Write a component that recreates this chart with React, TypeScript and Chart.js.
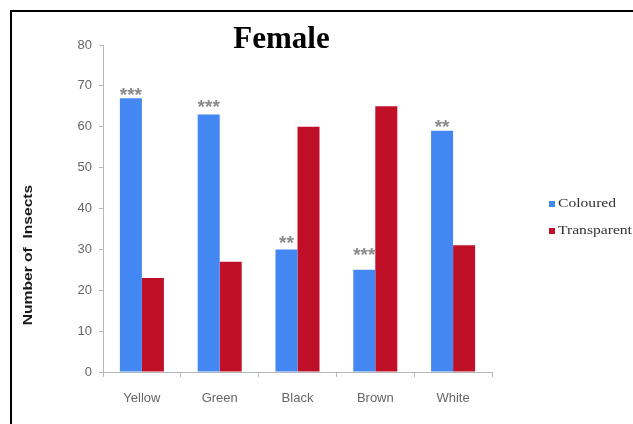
import React, { useEffect, useRef } from "react";
import { Chart, registerables } from "chart.js";

Chart.register(...registerables);

const categories = ["Yellow", "Green", "Black", "Brown", "White"];
const seriesNames = ["Coloured", "Transparent"];
const colouredValues = [67, 63, 30, 25, 59];
const transparentValues = [23, 27, 60, 65, 31];
const starLabels = ["***", "***", "**", "***", "**"];
const starLevels = [68.7, 65.8, 32.3, 29.6, 60.9];
const yTicks = [0, 10, 20, 30, 40, 50, 60, 70, 80];
const chartTitle = "Female";
const yAxisTitle = "Number of  Insects";

const BLUE = "#4287f2";
const RED = "#c01028";
const AXIS = "#b4b8bc";

const decorPlugin = {
  id: "decor",
  afterDraw(chart: any) {
    const ctx = chart.ctx as CanvasRenderingContext2D;
    const yScale = chart.scales.y;
    const meta = chart.getDatasetMeta(0);

    // stars
    ctx.save();
    ctx.fillStyle = "#8a8a8a";
    ctx.font = 'bold 19px "Liberation Sans"';
    ctx.textAlign = "center";
    ctx.textBaseline = "alphabetic";
    starLabels.forEach((s, i) => {
      const bar = meta.data[i];
      const cy = yScale.getPixelForValue(starLevels[i]);
      const m = ctx.measureText(s);
      const off = (m.actualBoundingBoxAscent - m.actualBoundingBoxDescent) / 2;
      ctx.fillText(s, bar.x, cy + off);
    });
    ctx.restore();

    // title
    ctx.save();
    ctx.fillStyle = "#000";
    ctx.font = 'bold 31px "Liberation Serif"';
    ctx.textAlign = "center";
    ctx.textBaseline = "alphabetic";
    ctx.fillText(chartTitle, 281.5, 48);
    ctx.restore();

    // y axis title
    ctx.save();
    ctx.fillStyle = "#1a1a1a";
    ctx.translate(28, 255);
    ctx.rotate(-Math.PI / 2);
    ctx.scale(1.2, 1);
    ctx.font = 'bold 13px "Liberation Sans"';
    ctx.textAlign = "center";
    ctx.textBaseline = "middle";
    ctx.fillText(yAxisTitle, 0, 0);
    ctx.restore();

    // legend
    const colors = [BLUE, RED];
    const rows = [204, 231];
    seriesNames.forEach((name, i) => {
      ctx.save();
      ctx.fillStyle = colors[i];
      ctx.fillRect(549, rows[i] - 3, 6, 6);
      ctx.fillStyle = "#333";
      ctx.translate(558, rows[i]);
      ctx.scale(1.3, 1);
      ctx.font = '12px "Liberation Serif"';
      ctx.textAlign = "left";
      ctx.textBaseline = "middle";
      ctx.fillText(name, 0, 0);
      ctx.restore();
    });
  },
};

export default function App() {
  const ref = useRef<HTMLCanvasElement | null>(null);

  useEffect(() => {
    if (!ref.current) return;
    const chart = new Chart(ref.current, {
      type: "bar",
      data: {
        labels: categories,
        datasets: [
          {
            label: seriesNames[0],
            data: colouredValues,
            backgroundColor: BLUE,
            categoryPercentage: 0.566,
            barPercentage: 1,
          },
          {
            label: seriesNames[1],
            data: transparentValues,
            backgroundColor: RED,
            categoryPercentage: 0.566,
            barPercentage: 1,
          },
        ],
      },
      options: {
        responsive: false,
        animation: false,
        layout: { padding: { left: 0, top: 45, right: 141, bottom: 0 } },
        plugins: {
          legend: { display: false },
          title: { display: false },
          tooltip: { enabled: false },
        },
        scales: {
          x: {
            afterFit(scale: any) {
              scale.height = 52;
            },
            grid: {
              display: true,
              drawOnChartArea: false,
              offset: true,
              tickLength: 5,
              color: AXIS,
            },
            border: { color: AXIS, width: 1 },
            ticks: {
              color: "#666",
              font: { family: "Liberation Sans", size: 13 },
              padding: 14,
            },
          },
          y: {
            min: 0,
            max: 80,
            afterFit(scale: any) {
              scale.width = 103;
            },
            afterBuildTicks(scale: any) {
              scale.ticks = yTicks.map((v) => ({ value: v }));
            },
            grid: {
              display: true,
              drawOnChartArea: false,
              tickLength: 4,
              color: AXIS,
            },
            border: { color: AXIS, width: 1 },
            ticks: {
              color: "#666",
              font: { family: "Liberation Sans", size: 13 },
              padding: 7,
            },
          },
        },
      },
      plugins: [decorPlugin],
    });
    return () => chart.destroy();
  }, []);

  return (
    <div
      style={{
        position: "fixed",
        left: 0,
        top: 0,
        width: 633,
        height: 424,
        background: "#fff",
        overflow: "hidden",
      }}
    >
      <div
        style={{
          position: "absolute",
          left: 10,
          top: 10,
          width: 700,
          height: 500,
          borderLeft: "2px solid #000",
          borderTop: "2px solid #000",
        }}
      />
      <canvas
        ref={ref}
        width={633}
        height={424}
        style={{ position: "absolute", left: 0, top: 0, width: 633, height: 424 }}
      />
    </div>
  );
}
